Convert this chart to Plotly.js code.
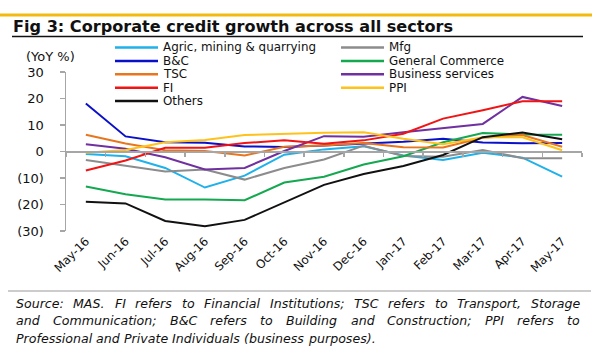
<!DOCTYPE html>
<html>
<head>
<meta charset="utf-8">
<script src="https://cdn.plot.ly/plotly-3.0.1.min.js"></script>
<style>
  html, body { margin: 0; padding: 0; background: #ffffff; }
  #chart { width: 600px; height: 360px; }
</style>
</head>
<body>
<div id="chart"></div>
<script>
// ---- Data (YoY %) ----
const months = ["May-16","Jun-16","Jul-16","Aug-16","Sep-16","Oct-16","Nov-16","Dec-16","Jan-17","Feb-17","Mar-17","Apr-17","May-17"];
const agric  = [-0.9, -1.8, -6.2, -13.6, -9.1, -1.2, 0.8, 2.0, -1.5, -3.2, -0.5, -2.3, -9.5];
const mfg    = [-3.2, -5.3, -7.5, -6.8, -10.6, -6.2, -3.0, 2.2, -1.7, -2.0, 0.6, -2.5, -2.5];
const bc     = [18.1, 5.7, 3.5, 3.3, 1.9, 1.7, 2.3, 2.9, 3.7, 4.8, 3.4, 3.1, 3.2];
const gencom = [-13.2, -16.1, -18.1, -18.1, -18.4, -11.7, -9.5, -4.9, -1.8, 3.5, 7.0, 6.4, 6.3];
const tsc    = [6.3, 3.0, 0.5, 0.2, -1.5, 1.8, 2.3, 3.2, 1.6, 1.5, 5.2, 6.2, 1.8];
const bizsvc = [2.7, 1.0, -2.2, -6.8, -6.2, 0.2, 5.8, 5.6, 7.3, 8.8, 10.4, 20.6, 17.2];
const fi     = [-7.2, -3.4, 1.4, 1.4, 3.2, 4.2, 2.9, 4.2, 6.7, 12.4, 15.6, 19.0, 19.0];
const ppi    = [-0.5, 0.6, 3.5, 4.3, 6.2, 6.7, 7.1, 7.3, 4.8, 2.7, 5.4, 5.4, 0.5];
const others = [-19.0, -19.6, -26.2, -28.2, -25.8, -19.3, -12.6, -8.5, -5.5, -1.3, 5.4, 7.2, 4.6];

const seriesNames  = ["Agric, mining & quarrying", "Mfg", "B&C", "General Commerce", "TSC", "Business services", "FI", "PPI", "Others"];
const seriesValues = [agric, mfg, bc, gencom, tsc, bizsvc, fi, ppi, others];
const seriesColors = ["#1EB1EA", "#8C8C8C", "#0A10C8", "#14A850", "#E8761E", "#7030A0", "#F01414", "#FFC21A", "#111111"];

const yTickVals = [-30, -20, -10, 0, 10, 20, 30];
const yTickText = ["(30)", "(20)", "(10)", "0", "10", "20", "30"];

const titleText  = "Fig 3: Corporate credit growth across all sectors";
const yUnitText  = "(YoY %)";
const sourceLines = [
  "Source: MAS. FI refers to Financial Institutions; TSC refers to Transport, Storage",
  "and Communication; B&C refers to Building and Construction; PPI refers to",
  "Professional and Private Individuals (business purposes)."
];

// ---- Geometry helpers (page pixels -> paper coordinates) ----
const W = 600, H = 360, ML = 66, MR = 18, MT = 72, MB = 129;
const PW = W - ML - MR, PH = H - MT - MB;
const px = X => (X - ML) / PW;
const py = Y => (H - MB - Y) / PH;
const FONT = "DejaVu Sans, Verdana, sans-serif";
const esc = s => s.replace(/&/g, "&amp;");

// ---- Traces ----
const traces = seriesValues.map((vals, i) => ({
  type: "scatter",
  mode: "lines",
  x: months,
  y: vals,
  name: seriesNames[i],
  line: { color: seriesColors[i], width: 2 },
  xaxis: i === seriesValues.length - 1 ? "x2" : "x",
  showlegend: false,
  hoverinfo: "x+y+name"
}));

// ---- Manual compact legend (two columns, row-major) ----
const shapes = [];
const annotations = [];
const legColX = [115, 341];
const legLineLen = 43;
const legRow0 = 47.5, legRowStep = 13.4;
seriesNames.forEach((nm, i) => {
  const col = i % 2, row = Math.floor(i / 2);
  const yy = legRow0 + row * legRowStep;
  shapes.push({
    type: "line", xref: "paper", yref: "paper",
    x0: px(legColX[col]), x1: px(legColX[col] + legLineLen), y0: py(yy), y1: py(yy),
    line: { color: seriesColors[i], width: 2.5 }
  });
  annotations.push({
    xref: "paper", yref: "paper", x: px(legColX[col] + legLineLen + 4), y: py(yy),
    xanchor: "left", yanchor: "middle", showarrow: false,
    text: esc(nm), borderpad: 0,
    font: { family: FONT, size: 11.9, color: "#111111" }
  });
});

// Decorative frame lines
shapes.push({ type: "line", xref: "paper", yref: "paper", x0: px(0), x1: px(592), y0: py(15), y1: py(15), line: { color: "#F2B90F", width: 3 } });
shapes.push({ type: "line", xref: "paper", yref: "paper", x0: px(12), x1: px(583), y0: py(36.5), y1: py(36.5), line: { color: "#111111", width: 1.5 } });
shapes.push({ type: "line", xref: "paper", yref: "paper", x0: px(8), x1: px(591), y0: py(291), y1: py(291), line: { color: "#9A9A9A", width: 1.2 } });

// Title
annotations.push({
  xref: "paper", yref: "paper", x: px(11), y: py(26),
  xanchor: "left", yanchor: "middle", showarrow: false,
  text: "<b>" + titleText + "</b>",
  font: { family: FONT, size: 16.1, color: "#111111" }
});
// Y unit label
annotations.push({
  xref: "paper", yref: "paper", x: px(24), y: py(56),
  xanchor: "left", yanchor: "middle", showarrow: false,
  text: yUnitText,
  font: { family: FONT, size: 13, color: "#111111" }
});

// Source lines: justified word by word (last line left-aligned)
const srcSize = 12.6;
const srcY = [303, 320.5, 338];
const srcLeft = 14, srcRight = 578;
const cnv = document.createElement("canvas").getContext("2d");
cnv.font = "italic " + srcSize + "px 'DejaVu Sans'";
sourceLines.forEach((ln, i) => {
  const words = ln.split(" ");
  const widths = words.map(w => cnv.measureText(w).width);
  const spaceW = cnv.measureText(" ").width;
  const total = widths.reduce((a, b) => a + b, 0);
  const justify = i < sourceLines.length - 1;
  const gap = justify ? (srcRight - srcLeft - total) / (words.length - 1) : spaceW;
  let xcur = srcLeft;
  words.forEach((w, k) => {
    annotations.push({
      xref: "paper", yref: "paper", x: px(xcur), y: py(srcY[i]),
      xanchor: "left", yanchor: "middle", showarrow: false,
      text: "<i>" + esc(w) + "</i>",
      font: { family: FONT, size: srcSize, color: "#111111" }
    });
    xcur += widths[k] + gap;
  });
});

const layout = {
  width: W, height: H,
  margin: { l: ML, r: MR, t: MT, b: MB, pad: 0 },
  paper_bgcolor: "#ffffff",
  plot_bgcolor: "rgba(0,0,0,0)",
  showlegend: false,
  font: { family: FONT, color: "#111111" },
  xaxis: {
    type: "category",
    range: [-0.5, months.length - 0.5],
    showline: false, showgrid: false, zeroline: false,
    ticks: "", tickangle: -45,
    tickfont: { family: FONT, size: 11.8, color: "#111111" },
    fixedrange: true
  },
  xaxis2: {
    type: "category",
    overlaying: "x", matches: "x",
    anchor: "free", position: 0.5,
    showline: true, linecolor: "#A6A6A6", linewidth: 2,
    ticks: "outside", tickson: "boundaries", ticklen: 4, tickcolor: "#A6A6A6", tickwidth: 1.5,
    showticklabels: false, showgrid: false, zeroline: false
  },
  yaxis: {
    range: [-30, 30],
    tickvals: yTickVals, ticktext: yTickText,
    showline: true, linecolor: "#A6A6A6", linewidth: 1.5,
    ticks: "outside", ticklen: 5, tickcolor: "#A6A6A6", tickwidth: 1.5,
    ticklabelstandoff: 13,
    showgrid: false, zeroline: false,
    tickfont: { family: FONT, size: 13, color: "#111111" },
    fixedrange: true
  },
  shapes: shapes,
  annotations: annotations
};

Plotly.newPlot("chart", traces, layout, { displayModeBar: false, staticPlot: true });
</script>
</body>
</html>
